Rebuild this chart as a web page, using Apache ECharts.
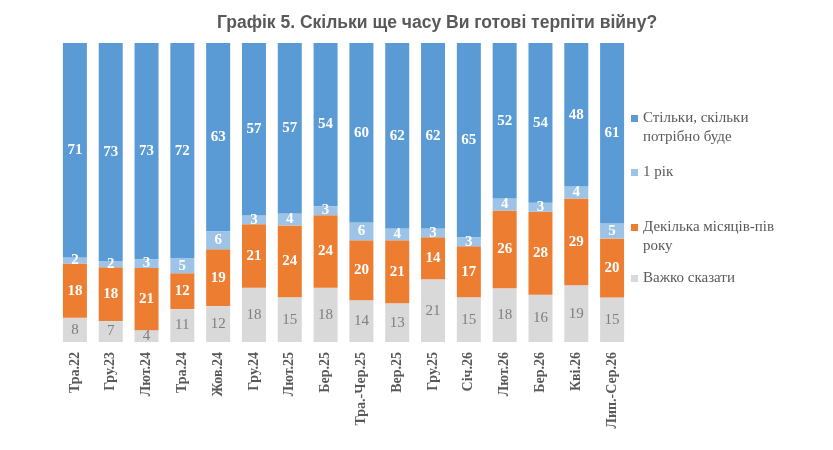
<!DOCTYPE html>
<html><head><meta charset="utf-8">
<script src="https://cdn.jsdelivr.net/npm/echarts@6/dist/echarts.min.js"></script>
<style>html,body{margin:0;padding:0;background:#fff}#c{width:833px;height:450px}</style>
</head><body><div id="c"></div>
<script>
var categories = ['Тра.22','Гру.23','Лют.24','Тра.24','Жов.24','Гру.24','Лют.25','Бер.25','Тра.-Чер.25','Вер.25','Гру.25','Січ.26','Лют.26','Бер.26','Кві.26','Лип.-Сер.26'];
var asLong = [71,73,73,72,63,57,57,54,60,62,62,65,52,54,48,61];
var oneYear = [2,2,3,5,6,3,4,3,6,4,3,3,4,3,4,5];
var fewMonths = [18,18,21,12,19,21,24,24,20,21,14,17,26,28,29,20];
var hardToSay = [8,7,4,11,12,18,15,18,14,13,21,15,18,16,19,15];
var seriesNames = ['Стільки, скільки потрібно буде','1 рік','Декілька місяців-пів року','Важко сказати'];
var legendLabels = [' \nСтільки, скільки\nпотрібно буде','1 рік',' \nДекілька місяців-пів\nроку','Важко сказати'];
var colors = ['#5B9BD5','#9DC3E6','#ED7D31','#D9D9D9'];

var totals = categories.map(function(_, i){ return asLong[i]+oneYear[i]+fewMonths[i]+hardToSay[i]; });
function norm(arr){ return arr.map(function(v,i){ return {value: v/totals[i]*100, raw: v}; }); }

var serif = '"Liberation Serif","Times New Roman",serif';
var chart = echarts.init(document.getElementById('c'));

function mkSeries(name, arr, color, labelColor, bold){
  return {
    name: name, type: 'bar', stack: 'all', barWidth: 24,
    data: norm(arr),
    itemStyle: {color: color},
    label: {show: true, position: 'inside', color: labelColor, fontFamily: serif, fontSize: 15,
      fontWeight: bold ? 'bold' : 'normal',
      formatter: function(p){ return p.data.raw; }}
  };
}

var legendTops = [90, 163, 199, 269];
var legends = seriesNames.map(function(n, k){
  return {
    orient: 'vertical', left: 631, top: legendTops[k], padding: 0,
    itemWidth: 7, itemHeight: 7, itemGap: 0, icon: 'rect',
    data: [n], selectedMode: false,
    formatter: function(){ return legendLabels[k]; },
    textStyle: {fontFamily: serif, fontSize: 15, color: '#595959', lineHeight: 19}
  };
});

chart.setOption({
  animation: false,
  color: colors,
  title: {text: 'Графік 5. Скільки ще часу Ви готові терпіти війну?', left: 212, top: 9,
    textStyle: {fontFamily: '"Liberation Sans",Arial,sans-serif', fontSize: 17.5, fontWeight: 'bold', color: '#595959'}},
  legend: legends,
  grid: {left: 57, right: 203, top: 43, bottom: 108},
  xAxis: {type: 'category', data: categories,
    axisLine: {show: false}, axisTick: {show: false},
    axisLabel: {rotate: 90, interval: 0, margin: 10, fontFamily: serif, fontSize: 14, fontWeight: 'bold', color: '#595959'}},
  yAxis: {type: 'value', min: 0, max: 100, show: false},
  series: [
    mkSeries(seriesNames[3], hardToSay, colors[3], '#7F7F7F', false),
    mkSeries(seriesNames[2], fewMonths, colors[2], '#FFFFFF', true),
    mkSeries(seriesNames[1], oneYear, colors[1], '#FFFFFF', true),
    mkSeries(seriesNames[0], asLong, colors[0], '#FFFFFF', true)
  ]
});
</script></body></html>
